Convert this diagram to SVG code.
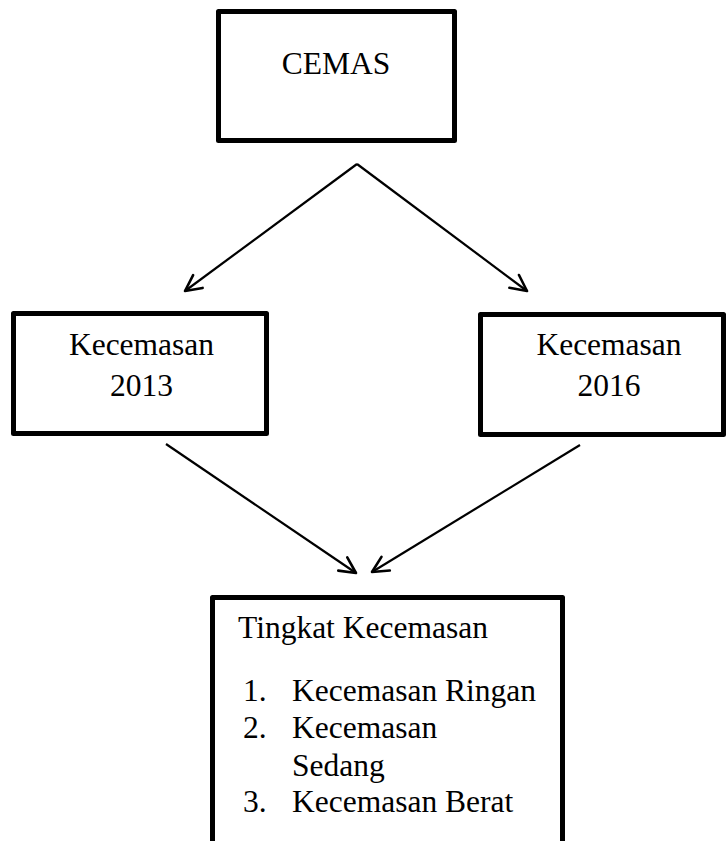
<svg xmlns="http://www.w3.org/2000/svg" width="727" height="841" viewBox="0 0 727 841">
<style>
.box{fill:none;stroke:#000;stroke-width:5;stroke-linejoin:round}
.t{font-family:"Liberation Serif","Times New Roman",serif;font-size:31.5px;fill:#000}
.c{text-anchor:middle}
.ln{stroke:#000;stroke-width:2.2;fill:none}
</style>
<defs>
<marker id="arr" markerUnits="userSpaceOnUse" markerWidth="30" markerHeight="30" viewBox="-20 -15 30 30" refX="0" refY="0" orient="auto">
<path d="M-16,-8 L0,0 L-16,8" fill="none" stroke="#000" stroke-width="2.6" stroke-linecap="round" stroke-linejoin="round"/>
</marker>
</defs>
<rect width="727" height="841" fill="#fff"/>
<g id="cemas">
<rect class="box" x="218.5" y="11.5" width="236" height="129"/>
<text class="t c" x="336" y="74">CEMAS</text>
</g>
<g id="k2013">
<rect class="box" x="13.5" y="313.5" width="253" height="120"/>
<text class="t c" x="141.5" y="355">Kecemasan</text>
<text class="t c" x="141.5" y="396">2013</text>
</g>
<g id="k2016">
<rect class="box" x="480.5" y="314.5" width="243" height="120"/>
<text class="t c" x="609" y="355">Kecemasan</text>
<text class="t c" x="609" y="396">2016</text>
</g>
<g id="tingkat">
<path class="box" d="M212.5,850 V597.5 H562.5 V850"/>
<text class="t" x="238" y="638">Tingkat Kecemasan</text>
<text class="t" x="243" y="701">1.</text>
<text class="t" x="292" y="701">Kecemasan Ringan</text>
<text class="t" x="243" y="738">2.</text>
<text class="t" x="292" y="738">Kecemasan</text>
<text class="t" x="292" y="776">Sedang</text>
<text class="t" x="243" y="812">3.</text>
<text class="t" x="292" y="812">Kecemasan Berat</text>
</g>
<g id="connectors">
<line class="ln" x1="357" y1="164" x2="185" y2="291" marker-end="url(#arr)"/>
<line class="ln" x1="357" y1="164" x2="527" y2="291" marker-end="url(#arr)"/>
<line class="ln" x1="166" y1="444" x2="356" y2="573" marker-end="url(#arr)"/>
<line class="ln" x1="580" y1="445" x2="372" y2="572" marker-end="url(#arr)"/>
</g>
</svg>
